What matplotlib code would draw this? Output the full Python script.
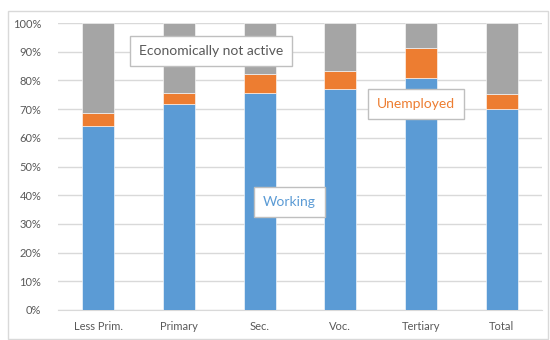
import matplotlib.pyplot as plt
from matplotlib.patches import Rectangle

CATEGORIES = ['Less Prim.', 'Primary', 'Sec.', 'Voc.', 'Tertiary', 'Total']
WORKING = [64.1, 71.9, 75.7, 76.9, 80.9, 69.9]
UNEMPLOYED = [4.4, 3.6, 6.7, 6.3, 10.5, 5.2]
NOT_ACTIVE = [100 - w - u for w, u in zip(WORKING, UNEMPLOYED)]

BLUE = '#5B9BD5'
ORANGE = '#ED7D31'
GRAY = '#A5A5A5'
TEXT = '#595959'

plt.rcParams['font.family'] = ['Lato', 'DejaVu Sans']

fig = plt.figure(figsize=(5.5, 3.4), dpi=100)
# chart frame
fig.patches.append(Rectangle((8 / 550, 1 - 339 / 340), 540 / 550, 328 / 340,
                             transform=fig.transFigure, fill=False,
                             edgecolor='#D9D9D9', linewidth=1))
ax = fig.add_axes([58 / 550, 1 - 310 / 340, 484 / 550, 287 / 340])

x = range(len(CATEGORIES))
bottom2 = [w + u for w, u in zip(WORKING, UNEMPLOYED)]
ax.bar(x, WORKING, width=0.4, color=BLUE, edgecolor='white', linewidth=0.4, zorder=3)
ax.bar(x, UNEMPLOYED, width=0.4, bottom=WORKING, color=ORANGE, edgecolor='white', linewidth=0.4, zorder=3)
ax.bar(x, NOT_ACTIVE, width=0.4, bottom=bottom2, color=GRAY, edgecolor='white', linewidth=0.4, zorder=3)

ax.set_xlim(-0.5, len(CATEGORIES) - 0.5)
ax.set_ylim(0, 100)
ax.set_yticks(range(0, 101, 10))
ax.set_yticklabels([f'{v}%' for v in range(0, 101, 10)])
ax.set_xticks(list(x))
ax.set_xticklabels(CATEGORIES)
ax.tick_params(length=0, colors=TEXT, labelsize=8)
ax.tick_params(axis='x', pad=8)
ax.tick_params(axis='y', pad=12)
ax.grid(axis='y', color='#D9D9D9', linewidth=1, zorder=0)
for side in ['top', 'right', 'left']:
    ax.spines[side].set_visible(False)
ax.spines['bottom'].set_color('#D9D9D9')

box = dict(boxstyle='square,pad=0.65', facecolor='white', edgecolor='#BFBFBF', linewidth=1)
ax.text(1.4, 90.3, 'Economically not active', color=TEXT, fontsize=10,
        ha='center', va='center', bbox=box, zorder=5)
ax.text(3.94, 71.8, 'Unemployed', color=ORANGE, fontsize=10,
        ha='center', va='center', bbox=box, zorder=5)
ax.text(2.37, 37.5, 'Working', color=BLUE, fontsize=10,
        ha='center', va='center', bbox=box, zorder=5)

fig.savefig('out.png', dpi=100)
